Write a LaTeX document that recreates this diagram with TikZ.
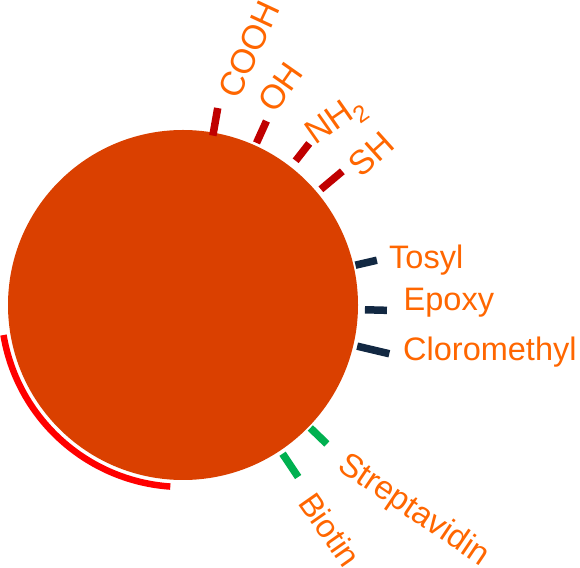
\documentclass[tikz,border=0pt]{standalone}
\usepackage{fontspec}
\setmainfont{Liberation Sans}
\usetikzlibrary{positioning}
\definecolor{beadorange}{RGB}{218,64,0}
\definecolor{labelorange}{RGB}{255,102,0}
\definecolor{groupred}{RGB}{192,0,0}
\definecolor{groupnavy}{RGB}{18,40,66}
\definecolor{groupgreen}{RGB}{0,176,80}

\begin{document}
\begin{tikzpicture}[x=1pt, y=1pt,
    lbl/.style={inner sep=0pt, anchor=base west, text=labelorange,
                font=\fontsize{32.5}{38}\selectfont},
    rlbl/.style={lbl, font=\fontsize{34}{40}\selectfont},
    linker/.style={line width=7.5pt}]
  \useasboundingbox (0,0) rectangle (580,567);
  \node[circle, fill=beadorange, minimum size=350pt, inner sep=0pt] (bead) at (183,262) {};

  % coating band
  \draw[red, line width=6.5pt] ([shift={(189.5:182)}]bead.center)
    arc[start angle=189.5, end angle=266, radius=182];

  % surface groups: angle/inner/outer/colour
  \foreach \ang/\rin/\rout/\col in {80/172/200/groupred, 65.6/178/202/groupred,
      52/183/205/groupred, 40/180/208/groupred,
      13/177/199/groupnavy, -1.5/182/204/groupnavy, -13.3/179/212/groupnavy,
      -44/177/200/groupgreen, -56.2/179/207/groupgreen}
    \draw[linker, draw=\col] ([shift={(\ang:\rin)}]bead.center) -- ([shift={(\ang:\rout)}]bead.center);

  \node[rlbl, rotate=65] (cooh) at (238,466) {COOH};
  \node[rlbl, rotate=55] (oh) at (275,452) {OH};
  \node[rlbl, rotate=35] (nh2) at (315,421) {NH\textsubscript{2}};
  \node[rlbl, rotate=42] (sh) at (361,388) {SH};
  \node[lbl] (tosyl) at (389,298) {Tosyl};
  \node[lbl] (epoxy) at (403.5,256) {Epoxy};
  \node[lbl] (clorom) at (403,206.3) {Clorometh{}yl};
  \node[lbl, rotate=-34, font=\fontsize{33}{39}\selectfont] (strept) at (336,98) {Streptavidin};
  \node[lbl, rotate=-55] (biotin) at (297,64) {Biotin};
\end{tikzpicture}
\end{document}
